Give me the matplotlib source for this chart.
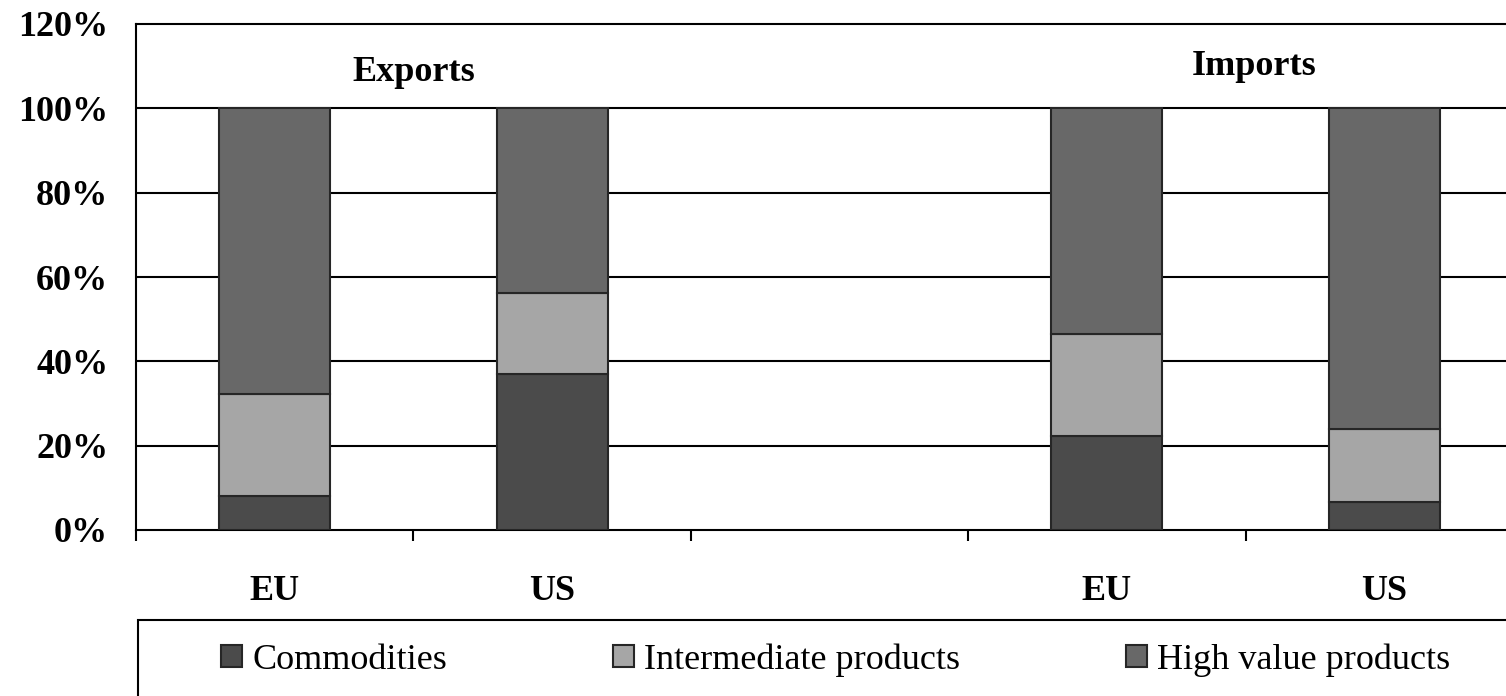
import numpy as np
import matplotlib
matplotlib.use("Agg")
import matplotlib.pyplot as plt
from matplotlib.patches import Rectangle

# ---- data ----
categories = ["EU", "US", "", "EU", "US"]
commodities = [8.1, 36.9, np.nan, 22.3, 6.7]
intermediate = [24.2, 19.4, np.nan, 24.3, 17.3]
high_value = [67.7, 43.7, np.nan, 53.4, 76.0]
series_names = ["Commodities", "Intermediate products", "High value products"]
group_labels = ["Exports", "Imports"]
yticks = [0, 20, 40, 60, 80, 100, 120]
ytick_labels = ["0%", "20%", "40%", "60%", "80%", "100%", "120%"]

colors = ["#4b4b4b", "#a6a6a6", "#686868"]
edge = "#262626"

plt.rcParams['font.family'] = ['Liberation Serif', 'DejaVu Serif']

W, H = 1506, 696
fig = plt.figure(figsize=(W / 100, H / 100), dpi=100)
left_px, right_px, top_px, bottom_px = 136, 1523, 24, 530
ax = fig.add_axes([left_px / W, 1 - bottom_px / H,
                   (right_px - left_px) / W, (bottom_px - top_px) / H])

x = np.arange(len(categories))
c = np.array(commodities)
m = np.array(intermediate)
h = np.array(high_value)
bw = 0.4
ax.bar(x, c, bw, color=colors[0], edgecolor=edge, linewidth=1.5, label=series_names[0], zorder=3)
ax.bar(x, m, bw, bottom=c, color=colors[1], edgecolor=edge, linewidth=1.5, label=series_names[1], zorder=3)
ax.bar(x, h, bw, bottom=c + m, color=colors[2], edgecolor=edge, linewidth=1.5, label=series_names[2], zorder=3)

ax.set_xlim(-0.5, len(categories) - 0.5)
ax.set_ylim(0, 120)

# gridlines
for yv in yticks[1:-1]:
    ax.axhline(yv, color="black", lw=1.5, zorder=1)

ax.set_yticks(yticks)
ax.set_yticklabels(ytick_labels, fontsize=26, fontweight="bold")
ax.tick_params(axis="y", length=0, pad=20)

# category boundary ticks
ax.set_xticks(np.arange(-0.5, len(categories), 1.0))
ax.set_xticklabels([])
ax.tick_params(axis="x", length=8, width=1.5, direction="out")

trans = matplotlib.transforms.blended_transform_factory(ax.transData, ax.transAxes)
for xi, lab in zip(x, categories):
    if lab:
        ax.text(xi, -70 / (bottom_px - top_px), lab, transform=trans,
                ha="center", va="baseline", fontsize=26, fontweight="bold")

ax.text(0.5, 106.6, group_labels[0], ha="center", va="baseline", fontsize=26, fontweight="bold")
ax.text(3.53, 108.0, group_labels[1], ha="center", va="baseline", fontsize=26, fontweight="bold")

for s in ["left", "top", "bottom"]:
    ax.spines[s].set_linewidth(1.5)
    ax.spines[s].set_color("black")
ax.spines["right"].set_visible(False)

# legend frame
fig.add_artist(Rectangle((138 / W, -0.05), 1.0, (H - 620) / H + 0.05,
                         transform=fig.transFigure, fill=False,
                         edgecolor="black", linewidth=1.5))
leg = fig.legend(loc="center left", bbox_to_anchor=(221 / W, 1 - 660 / H),
                 ncol=3, frameon=False, fontsize=26, borderpad=0, borderaxespad=0,
                 handlelength=0.58, handleheight=0.58, handletextpad=0.28,
                 columnspacing=4.6)

fig.savefig("out.png", dpi=100)
